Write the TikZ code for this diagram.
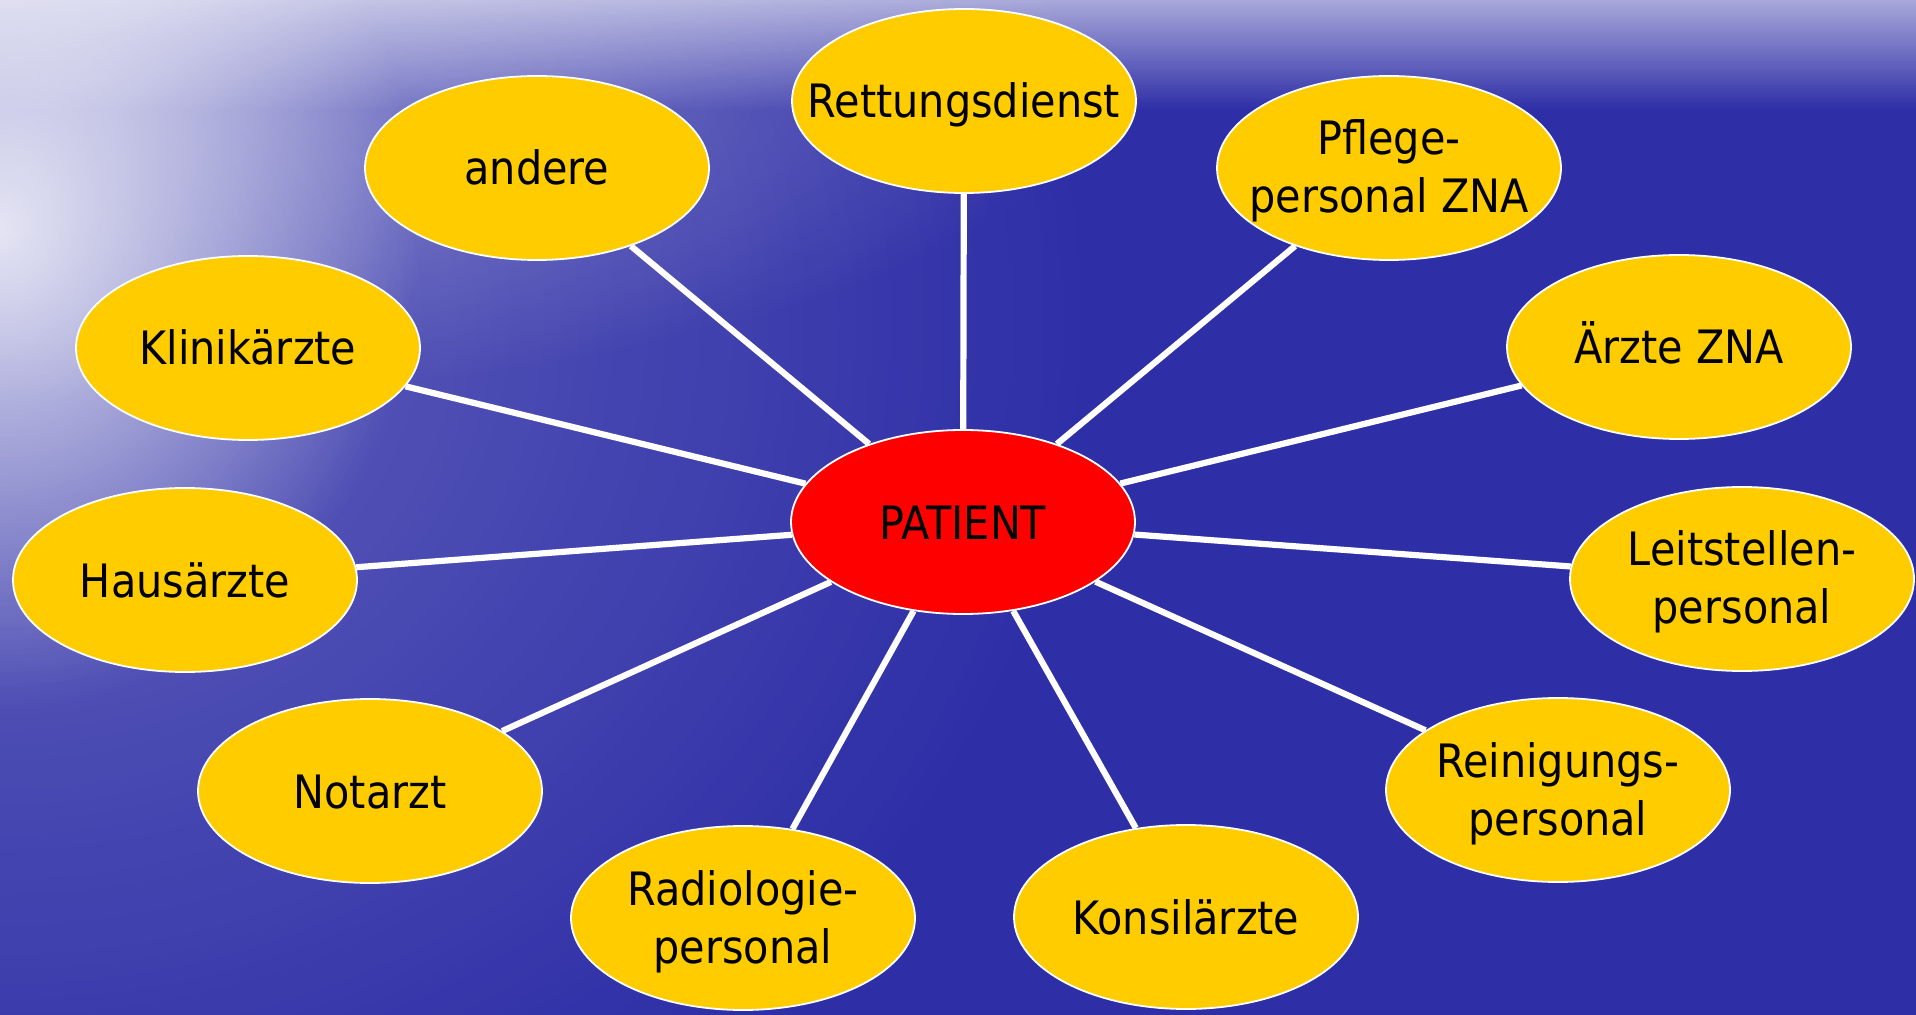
\documentclass[tikz,border=0pt]{standalone}
\usepackage{fontspec}
\setmainfont{DejaVu Sans Condensed}
\usetikzlibrary{shapes.geometric,fadings}
\definecolor{bgblue}{HTML}{2E2EA7}
\definecolor{topblue}{HTML}{A8A8DA}
\definecolor{nodeyellow}{HTML}{FFCC00}
\definecolor{patred}{HTML}{FF0000}
\tikzfading[name=glowfade, inner color=transparent!0, outer color=transparent!100]
\begin{document}
\begin{tikzpicture}[x=0.5pt,y=-0.5pt,
  party/.style={ellipse, fill=nodeyellow, draw=white, line width=0.9pt,
    minimum width=172pt, minimum height=92pt, inner sep=0pt},
  patnode/.style={party, fill=patred},
  txt/.style={anchor=base, font=\fontsize{23pt}{29pt}\selectfont, inner sep=0pt, text=black},
  link/.style={draw=white, line width=3.1pt}]
% background
\useasboundingbox (0,0) rectangle (1916,1015);
\fill[bgblue] (0,0) rectangle (1916,1015);
\shade[top color=topblue, bottom color=bgblue] (0,0) rectangle (1916,110);
\fill[white, path fading=glowfade, fill opacity=0.25] (0,320) ellipse [x radius=1100, y radius=950];
\fill[white, path fading=glowfade, fill opacity=0.35] (100,80) ellipse [x radius=1000, y radius=320];
\fill[white, path fading=glowfade, fill opacity=0.8] (0,230) ellipse [x radius=420, y radius=480];
% nodes
\node[party] (ret) at (964,101) {};
\node[party] (and) at (537,168) {};
\node[party] (pfl) at (1389,168) {};
\node[party] (kli) at (248,348) {};
\node[party] (arz) at (1679,347) {};
\node[party] (hau) at (185,580) {};
\node[party] (lei) at (1742,579) {};
\node[party] (not) at (370,791) {};
\node[party] (rei) at (1558,790) {};
\node[party] (rad) at (743,918) {};
\node[party] (kon) at (1186,917) {};
\node[patnode] (pat) at (963,522) {};
% connectors
\foreach \n in {ret,and,pfl,kli,arz,hau,lei,not,rei,rad,kon}
  \draw[link] (pat) -- (\n);
% labels
\node[txt, yshift=-8.5pt] (tret) at (ret) {Rettungsdienst};
\node[txt, yshift=-8.5pt] (tand) at (and) {andere};
\node[txt, yshift=6.5pt] (tpfl1) at (pfl) {Pflege-};
\node[txt, yshift=-22.5pt] (tpfl2) at (pfl) {personal ZNA};
\node[txt, yshift=-8.5pt] (tkli) at (kli) {Klinikärzte};
\node[txt, yshift=-8.5pt] (tarz) at (arz) {Ärzte ZNA};
\node[txt, yshift=-8.5pt] (tpat) at (pat) {PATIENT};
\node[txt, yshift=-8.5pt] (thau) at (hau) {Hausärzte};
\node[txt, yshift=6.5pt] (tlei1) at (lei) {Leitstellen-};
\node[txt, yshift=-22.5pt] (tlei2) at (lei) {personal};
\node[txt, yshift=-8.5pt] (tnot) at (not) {Notarzt};
\node[txt, yshift=6.5pt] (trei1) at (rei) {Reinigungs-};
\node[txt, yshift=-22.5pt] (trei2) at (rei) {personal};
\node[txt, yshift=6.5pt] (trad1) at (rad) {Radiologie-};
\node[txt, yshift=-22.5pt] (trad2) at (rad) {personal};
\node[txt, yshift=-8.5pt] (tkon) at (kon) {Konsilärzte};
\end{tikzpicture}
\end{document}
